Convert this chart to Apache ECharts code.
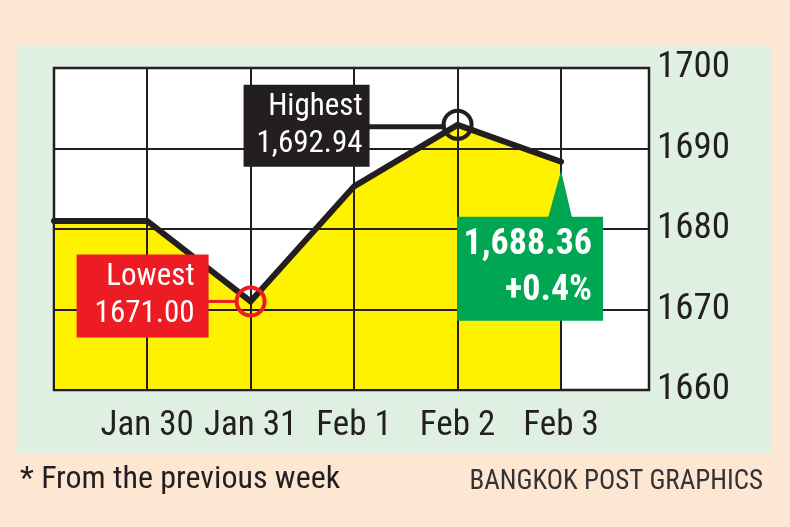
<!DOCTYPE html>
<html><head><meta charset="utf-8">
<script src="https://cdn.jsdelivr.net/npm/echarts@6/dist/echarts.min.js"></script>
<style>html,body{margin:0;padding:0;background:#fde6d2}#c{width:790px;height:527px}</style>
</head><body><div id="c"></div>
<script>
const categories = ['Jan 30', 'Jan 31', 'Feb 1', 'Feb 2', 'Feb 3'];
const closes = [1681.0, 1671.00, 1685.3, 1692.94, 1688.36];
const prevWeekClose = 1681.0;
const yTicks = [1660, 1670, 1680, 1690, 1700];
const changeText = '+0.4%';
const footnote = '* From the previous week';
const credit = 'BANGKOK POST GRAPHICS';

const X_MIN = -0.9, X_MAX = 4.85;
const FONT = "'Liberation Sans Narrow','Arial Narrow','Roboto Condensed',Lato,sans-serif";
const INK = '#231f20';

const lineData = [[X_MIN, prevWeekClose]].concat(closes.map((v, i) => [i, v]));
const hiIdx = closes.indexOf(Math.max(...closes));
const loIdx = closes.indexOf(Math.min(...closes));
const lastIdx = closes.length - 1;
const fmt = v => v.toLocaleString('en-US', {minimumFractionDigits: 2, maximumFractionDigits: 2});

const chart = echarts.init(document.getElementById('c'), null, {renderer: 'canvas'});
const vLines = [X_MIN].concat(categories.map((c, i) => i)).concat([X_MAX]);

chart.setOption({
  backgroundColor: '#fde6d2',
  animation: false,
  grid: {left: 54, top: 68, right: 141, bottom: 137, show: true, backgroundColor: '#fff', borderColor: INK, borderWidth: 2.5, z: 1},
  xAxis: {
    type: 'value', min: X_MIN, max: X_MAX,
    axisLine: {show: false}, axisTick: {show: false}, splitLine: {show: false},
    axisLabel: {customValues: categories.map((c, i) => i), formatter: v => categories[Math.round(v)] || '',
      fontFamily: FONT, fontSize: 35, color: INK, margin: 19}
  },
  yAxis: {
    type: 'value', position: 'right', min: yTicks[0], max: yTicks[yTicks.length - 1], interval: 10, z: 3,
    axisLine: {show: false}, axisTick: {show: false},
    splitLine: {show: true, lineStyle: {color: INK, width: 2}},
    axisLabel: {fontFamily: FONT, fontSize: 37, color: INK, margin: 8, formatter: v => String(v)}
  },
  series: [
    {type: 'line', data: lineData, z: 2, symbol: 'none', lineStyle: {width: 0}, areaStyle: {color: '#fff200', opacity: 1}},
    {type: 'line', data: [], z: 3, symbol: 'none',
      markLine: {silent: true, symbol: 'none', label: {show: false}, lineStyle: {color: INK, width: 2, type: 'solid'},
        data: vLines.map(x => ({xAxis: x}))}},
    {type: 'line', data: lineData, z: 6, symbol: 'none', lineStyle: {color: INK, width: 6, cap: 'round', join: 'miter'}},
    {type: 'scatter', z: 8, symbol: 'circle', symbolSize: 28,
      data: [
        {value: [hiIdx, closes[hiIdx]], itemStyle: {color: 'rgba(0,0,0,0)', borderColor: INK, borderWidth: 4, opacity: 1}},
        {value: [loIdx, closes[loIdx]], itemStyle: {color: 'rgba(0,0,0,0)', borderColor: '#ed1c24', borderWidth: 4, opacity: 1}}
      ]}
  ]
});

const hp = chart.convertToPixel({gridIndex: 0}, [hiIdx, closes[hiIdx]]);
const lp = chart.convertToPixel({gridIndex: 0}, [loIdx, closes[loIdx]]);
const ep = chart.convertToPixel({gridIndex: 0}, [lastIdx, closes[lastIdx]]);

const boxText = (right, top, text, size, bold, lh) => ({
  type: 'text', z: 12, style: {x: right, y: top, text: text, fill: '#fff', align: 'right', verticalAlign: 'top',
    font: (bold ? 'bold ' : '') + size + 'px ' + FONT, lineHeight: lh}
});

chart.setOption({
  graphic: [
    {type: 'rect', z: -10, silent: true, shape: {x: 17, y: 46, width: 754, height: 407}, style: {fill: '#dff0e3'}},
    // highest
    {type: 'line', z: 9, shape: {x1: hp[0] - 90, y1: hp[1] + 2, x2: hp[0] - 12, y2: hp[1] + 2}, style: {stroke: INK, lineWidth: 5}},
    {type: 'rect', z: 11, shape: {x: hp[0] - 214, y: hp[1] - 40, width: 126, height: 82}, style: {fill: INK}},
    boxText(hp[0] - 95, hp[1] - 36, 'Highest\n' + fmt(closes[hiIdx]), 31, false, 37),
    // lowest
    {type: 'line', z: 9, shape: {x1: lp[0] - 44, y1: lp[1], x2: lp[0] - 13, y2: lp[1]}, style: {stroke: '#ed1c24', lineWidth: 3}},
    {type: 'rect', z: 11, shape: {x: lp[0] - 174, y: lp[1] - 47, width: 132, height: 83}, style: {fill: '#ed1c24'}},
    boxText(lp[0] - 56, lp[1] - 43, 'Lowest\n' + closes[loIdx].toFixed(2), 31, false, 37),
    // last
    {type: 'polygon', z: 11, shape: {points: [[ep[0] - 13, ep[1] + 56], [ep[0], ep[1] + 9], [ep[0] + 11, ep[1] + 56]]}, style: {fill: '#00a651'}},
    {type: 'rect', z: 11, shape: {x: ep[0] - 104, y: ep[1] + 55, width: 146, height: 104}, style: {fill: '#00a651'}},
    boxText(ep[0] + 31, ep[1] + 60, fmt(closes[lastIdx]) + '\n' + changeText, 36, true, 46),
    // footer
    {type: 'text', z: 5, style: {x: 20, y: 480, text: footnote, fill: INK, font: '32px ' + FONT, verticalAlign: 'middle'}},
    {type: 'text', z: 5, style: {x: 763, y: 482, text: credit, fill: '#333', font: '27px ' + FONT, align: 'right', verticalAlign: 'middle'}}
  ]
});
</script></body></html>
